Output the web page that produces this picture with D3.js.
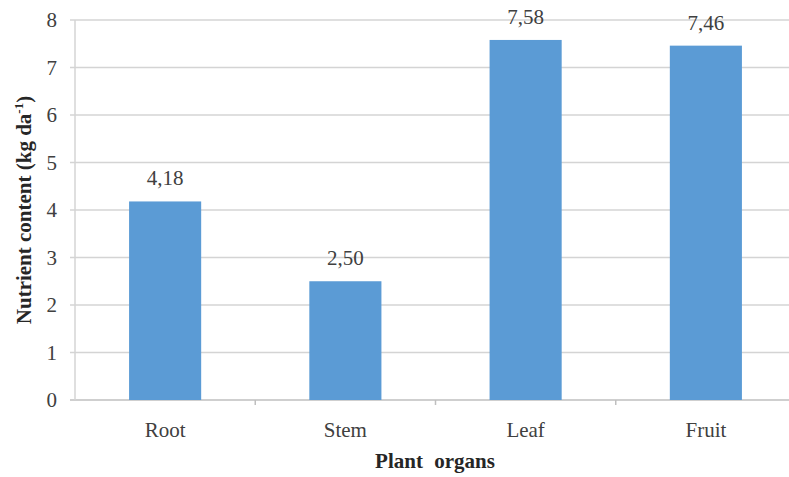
<!DOCTYPE html>
<html>
<head>
<meta charset="utf-8">
<script src="https://cdn.jsdelivr.net/npm/d3@7"></script>
</head>
<body style="margin:0">
<script>
// data
const organs = ["Root", "Stem", "Leaf", "Fruit"];
const content = [4.18, 2.50, 7.58, 7.46];
const yTicks = [0, 1, 2, 3, 4, 5, 6, 7, 8];

const W = 789, H = 477;
const plot = { left: 75, right: 796, top: 20, bottom: 400 };

const svg = d3.select("body").append("svg")
  .attr("width", W).attr("height", H);

// serif text helper, font set on every text element
const serif = (sel, size) => sel
  .attr("font-family", "Liberation Serif")
  .style("font-family", '"Liberation Serif"')
  .attr("font-size", size);

const x = d3.scaleBand().domain(organs)
  .range([plot.left, plot.right]).paddingInner(0.6).paddingOuter(0.3);
const y = d3.scaleLinear().domain([0, 8]).range([plot.bottom, plot.top]);

// gridlines + y ticks
svg.append("g")
  .selectAll("line")
  .data(yTicks)
  .join("line")
  .attr("x1", plot.left - 5)
  .attr("x2", W)
  .attr("y1", d => y(d))
  .attr("y2", d => y(d))
  .attr("stroke", (d) => d === 0 ? "#bfbfbf" : "#d4d4d4")
  .attr("stroke-width", 1.5);

// y axis line
svg.append("line")
  .attr("x1", plot.left).attr("x2", plot.left)
  .attr("y1", plot.top).attr("y2", plot.bottom)
  .attr("stroke", "#d4d4d4").attr("stroke-width", 1.5);

// y tick labels
svg.append("g")
  .selectAll("text")
  .data(yTicks)
  .join("text")
  .call(serif, 21)
  .attr("x", 57)
  .attr("y", d => y(d) + 7)
  .attr("text-anchor", "end")
  .attr("fill", "#404040")
  .text(d => d);

// x category boundary ticks
const step = x.step();
svg.append("g")
  .selectAll("line")
  .data(organs.slice(1))
  .join("line")
  .attr("x1", d => x(d) - x.paddingInner() * step / 2)
  .attr("x2", d => x(d) - x.paddingInner() * step / 2)
  .attr("y1", plot.bottom)
  .attr("y2", plot.bottom + 5)
  .attr("stroke", "#bfbfbf").attr("stroke-width", 1.5);

// bars
svg.append("g")
  .selectAll("rect")
  .data(organs)
  .join("rect")
  .attr("x", d => x(d))
  .attr("width", x.bandwidth())
  .attr("y", (d, i) => y(content[i]))
  .attr("height", (d, i) => y(0) - y(content[i]))
  .attr("fill", "#5b9bd5");

// value labels
svg.append("g")
  .selectAll("text")
  .data(organs)
  .join("text")
  .call(serif, 21)
  .attr("x", d => x(d) + x.bandwidth() / 2)
  .attr("y", (d, i) => y(content[i]) - 16)
  .attr("text-anchor", "middle")
  .attr("fill", "#404040")
  .text((d, i) => content[i].toFixed(2).replace(".", ","));

// category labels
svg.append("g")
  .selectAll("text")
  .data(organs)
  .join("text")
  .call(serif, 21)
  .attr("x", d => x(d) + x.bandwidth() / 2)
  .attr("y", 437)
  .attr("text-anchor", "middle")
  .attr("fill", "#404040")
  .text(d => d);

// axis titles
svg.append("text")
  .call(serif, 21)
  .attr("x", 435).attr("y", 468)
  .attr("text-anchor", "middle")
  .attr("fill", "#262626")
  .attr("font-weight", "bold")
  .attr("word-spacing", 6)
  .text("Plant organs");

const yt = svg.append("text")
  .call(serif, 21)
  .attr("transform", "translate(31,210) rotate(-90)")
  .attr("text-anchor", "middle")
  .attr("fill", "#262626")
  .attr("font-weight", "bold");
yt.append("tspan").text("Nutrient content (kg da");
yt.append("tspan").attr("dy", -8).attr("font-size", 13).text("-1");
yt.append("tspan").attr("dy", 8).text(")");
</script>
</body>
</html>
